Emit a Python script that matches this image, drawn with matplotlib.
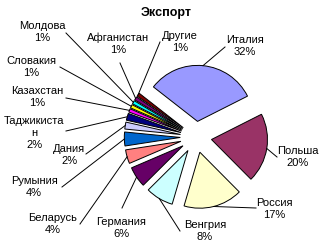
import matplotlib.pyplot as plt
import numpy as np

# Export shares, %
countries = ['Италия', 'Польша', 'Россия', 'Венгрия', 'Германия', 'Беларусь',
             'Румыния', 'Дания', 'Таджикиста\nн', 'Казахстан', 'Словакия',
             'Молдова', 'Афганистан', 'Другие']
shares = [32, 20, 17, 8, 6, 4, 4, 2, 2, 1, 1, 1, 1, 1]
colors = ['#9999FF', '#993366', '#FFFFCC', '#CCFFFF', '#660066', '#FF8080',
          '#0066CC', '#CCCCFF', '#000080', '#FF00FF', '#FFFF00', '#00FFFF',
          '#800080', '#800000']

# layout (pixel positions in the 328x249 image)
W, H = 328, 249
cx, cy, scale = 196, 137, 56
label_pos = [(245, 46), (298, 157), (274, 209), (205, 231), (121, 228), (53, 224),
             (34, 187), (69, 155), (34, 133), (37, 97), (31, 67), (42, 32),
             (118, 44), (180, 42)]
line_start = [(225, 47), (277, 157), (256, 208), (180, 231), (122, 208), (80, 224),
              (62, 187), (86, 154), (66, 131), (66, 98), (60, 67), (66, 33),
              (120, 63), (160, 42)]


def px(p):
    return (p[0] - cx) / scale, (cy - p[1]) / scale


fig = plt.figure(figsize=(W / 100, H / 100), dpi=100)
ax = fig.add_axes([0, 0, 1, 1])
explode = 0.28
wedges, _ = ax.pie(shares, colors=colors, startangle=142, counterclock=False,
                   explode=[explode] * len(shares), radius=1,
                   wedgeprops=dict(edgecolor='black', linewidth=0.7))
ax.set_xlim(-cx / scale, (W - cx) / scale)
ax.set_ylim(-(H - cy) / scale, cy / scale)
ax.set_aspect('equal')
ax.axis('off')

font = 'Liberation Sans'
for w, name, val, lp, ls in zip(wedges, countries, shares, label_pos, line_start):
    mid = np.deg2rad((w.theta1 + w.theta2) / 2)
    end = ((1 + explode) * np.cos(mid), (1 + explode) * np.sin(mid))
    start = px(ls)
    ax.plot([start[0], end[0]], [start[1], end[1]], color='black', lw=0.7)
    tx, ty = px(lp)
    ax.text(tx, ty, f'{name}\n{val}%', ha='center', va='center', fontsize=8,
            family=font, linespacing=1.2)

fig.text(166 / W, 1 - 13 / H, 'Экспорт', ha='center', va='center',
         fontsize=9, fontweight='bold', family=font)

fig.savefig('out.png', dpi=100)
